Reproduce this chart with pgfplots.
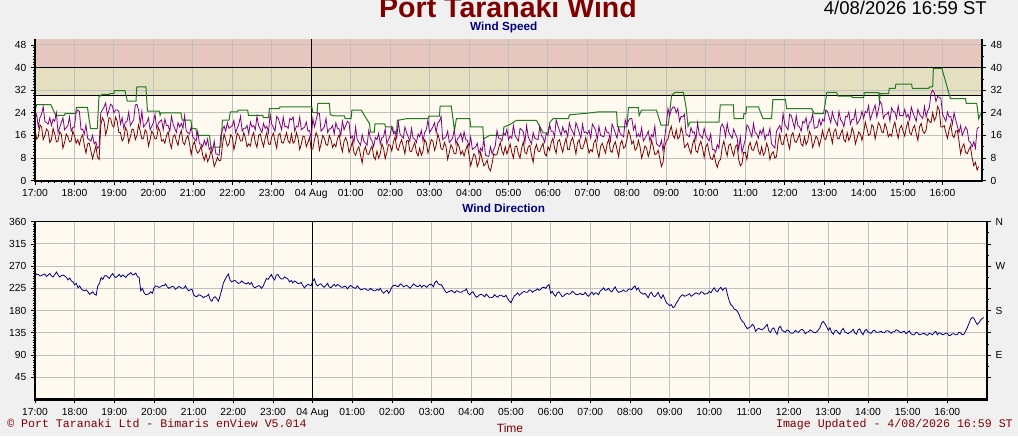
\documentclass[border=0pt]{standalone}
\usepackage{pgfplots}
\pgfplotsset{compat=1.18}
\usepackage{pgfplotstable}
\usepackage{fontspec}
\setmainfont{Liberation Sans}
\newfontfamily\monofont{Liberation Mono}
\definecolor{outerbg}{HTML}{F0F0F0}
\definecolor{plotbg}{HTML}{FFFAF0}
\definecolor{bandA}{HTML}{E4DFC1}
\definecolor{bandB}{HTML}{E5C7C0}
\definecolor{gridc}{HTML}{C0C0C0}
\definecolor{avgc}{HTML}{800000}
\definecolor{gustc}{HTML}{800080}
\definecolor{maxc}{HTML}{1E7B1E}
\definecolor{dirc}{HTML}{000080}
\definecolor{titlec}{HTML}{800000}

% m = minutes after 17:00; avg, gust (knots); dir (degrees)
\pgfplotstableread{
m avg gust dir
0 18 22 250
2.5 14.75 23.5 254
5 15.5 19 253
7.5 19.75 22.25 250
10 19 23.5 251
12.5 14.5 26.25 253
15 16 21 254
17.5 18.25 20.5 249
20 17.5 20 252
22.5 13.5 22.25 255
25 14.5 19.5 250
27.5 18.5 21.75 248
30 16.5 21 253
32.5 13.75 24 258
35 14 17 252
37.5 17.25 18.75 248
40 16.5 20.5 251
42.5 11.5 22.25 252
45 13.5 18 250
47.5 16.5 18.75 247
50 15.5 19.5 242
52.5 13.75 22.5 246
55 14 17.5 240
57.5 17.5 18.75 238
60 16 19 232
62.5 13.25 24 235
65 14.5 25 226
67.5 12.75 24.5 230
70 15 18 224
72.5 16.25 18.25 221
75 12.5 16.5 220
77.5 9.75 19.75 222
80 13 15 218
82.5 13.25 14.5 213
85 10.5 14 215
87.5 7.75 16 218
90 10 13 213
92.5 12.25 13.75 211
95 8.5 11.5 230
97.5 7.5 12 235
100 19.5 24 247
102.5 22.25 25 243
105 21 26 250
107.5 16.25 27.5 251
110 18.5 23 248
112.5 22.25 25 245
115 22 27 251
117.5 19.5 26.5 255
120 19 24 249
122.5 22.5 25 247
125 21 25 250
127.5 17 24.5 253
130 17 20 248
132.5 14 22.25 252
135 15 18.5 250
137.5 18.75 20.75 247
140 17.5 21 252
142.5 13.5 24.25 254
145 15.5 19.5 257
147.5 18.25 20.5 252
150 18 21.5 253
152.5 14.5 26.75 256
155 16 27 249
157.5 19.75 25 247
160 17.5 20 220
162.5 14.75 24.5 225
165 15 19 216
167.5 18 19.75 212
170 17 20.5 213
172.5 12.25 22.25 214
175 14.5 18 218
177.5 17.5 19.25 215
180 16.5 20.5 226
182.5 14.75 23.5 230
185 15 18.5 229
187.5 18.75 20.25 227
190 17.5 21 228
192.5 14 21.5 231
195 14.5 18 230
197.5 13.25 21.75 234
200 16 19.5 228
202.5 17.25 19.5 225
205 13.5 17.5 227
207.5 11.5 22.75 229
210 15.5 20 228
212.5 16.25 18.5 223
215 14 17 226
217.5 12.5 20.5 229
220 16 19 227
222.5 17.75 20.25 225
225 13.5 18.5 225
227.5 12.75 23 230
230 15 17.5 224
232.5 16 17 220
235 13 16.5 222
237.5 9.25 19 223
240 12.5 15.5 212
242.5 13.75 14.75 209
245 11 14 208
247.5 9.75 17.5 212
250 10.5 13 211
252.5 12.25 13 209
255 9 12 206
257.5 7.25 14.25 209
260 9.5 12.5 209
262.5 6.75 14.75 213
265 8 11 202
267.5 10.75 11.75 199
270 8.5 10.5 206
272.5 5 14 208
275 6.5 9.5 204
277.5 8.25 9.25 199
280 7 9 210
282.5 7.25 16 222
285 12.5 18 236
287.5 16.5 19.25 243
290 14.5 17.5 249
292.5 12.25 20.5 254
295 13 18.5 242
297.5 16.25 19 238
300 15.5 19.5 240
302.5 11 21.25 241
305 13.5 17 238
307.5 16.75 18.5 235
310 16 20 236
312.5 14 22.75 240
315 14 17.5 237
317.5 17 18.5 235
320 15 18.5 234
322.5 12 19.5 237
325 13 16.5 233
327.5 12.25 20.75 237
330 15.5 19 229
332.5 17 19.5 226
335 13.5 18 228
337.5 11.75 22.75 230
340 16 19.5 230
342.5 16.5 18.25 225
345 14 17 229
347.5 12 20.25 237
350 15 18.5 245
352.5 17 19.25 243
355 13 17 248
357.5 12.75 23.5 253
360 15.5 20 246
362.5 16.75 18.75 242
365 14 17.5 252
367.5 11.5 22.75 253
370 16 22 247
372.5 16.75 20 244
375 13.5 18 244
377.5 13.25 22.5 248
380 15 19 246
382.5 17 19.25 244
385 14 18.5 238
387.5 13.25 22 241
390 16.5 21.5 236
392.5 13.25 22.5 240
395 14 17.5 238
397.5 17 19.25 235
400 15 19 235
402.5 11 22.5 237
405 13 18 231
407.5 15.75 18.5 226
410 15.5 19 230
412.5 12 20.75 233
415 13.5 17.5 232
417.5 15.25 17.75 230
420 11 15 239
422.5 11.25 22 244
425 14.5 19 234
427.5 17 21.5 230
430 15.5 24 233
432.5 10.75 23.75 234
435 13 17.5 230
437.5 16 18.25 227
440 15 19 231
442.5 12.75 22 235
445 12.5 17 228
447.5 16 18.25 226
450 14.5 18.5 230
452.5 11.75 19.5 233
455 13 16.5 229
457.5 12 20.5 233
460 15 18.5 231
462.5 16.25 18.25 228
465 12.5 16 227
467.5 10.25 21 229
470 14 18 229
472.5 15.25 19.5 224
475 13.5 21 228
477.5 10 20.5 231
480 11.5 15 228
482.5 13.75 15.75 226
485 10 13.5 225
487.5 9 19 230
490 11 14.5 226
492.5 12 13.5 222
495 9 12.5 223
497.5 6.25 16.25 224
500 10.5 14 224
502.5 12 13.25 221
505 9.5 12.5 221
507.5 9.25 17.75 225
510 11 15 222
512.5 12.25 14 220
515 8.5 12 220
517.5 7.5 15.25 223
520 10.5 14.5 221
522.5 8 16.75 225
525 9.5 13 218
527.5 13 15.25 215
530 11.5 15.5 219
532.5 7.75 18.25 221
535 10 13 215
537.5 12.75 14.5 221
540 12.5 16 228
542.5 10.5 19 231
545 13.5 17 231
547.5 15.5 17.5 229
550 11.5 15 229
552.5 10.75 20.75 234
555 13 16.5 232
557.5 14.5 15.75 228
560 12 15 230
562.5 9.5 19 231
565 14 17 228
567.5 14.25 15.5 225
570 10.5 14 230
572.5 10.25 18.5 234
575 12 15 231
577.5 13.5 14.75 229
580 10 13.5 229
582.5 8.75 16.5 232
585 11.5 15.5 227
587.5 9 17.75 231
590 10.5 14 230
592.5 14.5 17 227
595 13.5 18 231
597.5 9.75 21.5 233
600 12 17 233
602.5 14.5 18 228
605 14 19 237
607.5 10.75 20.5 240
610 12.5 17 234
612.5 16.5 20.5 232
615 14.5 21 232
617.5 11.25 22.75 226
620 11 14.5 220
622.5 13.5 15 216
625 12 15.5 218
627.5 7.5 17.5 219
630 10 13.5 221
632.5 12.75 14.25 218
635 11.5 15 216
637.5 9.5 18 220
640 9.5 13 219
642.5 13.25 14.75 217
645 12 15.5 217
647.5 9.25 16.75 220
650 10.5 14 220
652.5 8.75 17.25 224
655 11 14.5 215
657.5 12.5 14.25 212
660 9 12 216
662.5 5.25 15.5 218
665 7.5 11 212
667.5 9.5 11.5 207
670 8.5 12 209
672.5 5 13.25 212
675 6.5 9.5 213
677.5 10 11.5 211
680 7.5 10.5 208
682.5 5.25 14.75 213
685 6 9 210
687.5 7.25 8.75 206
690 4.5 8.5 206
692.5 3.5 12 207
695 6 9.5 212
697.5 9.5 11 209
700 9 12.5 207
702.5 9.25 17.75 211
705 11.5 15 211
707.5 13.5 15 209
710 10.5 14 208
712.5 9.25 17 211
715 12 16 204
717.5 9.5 18.25 199
720 11 14.5 196
722.5 13 15.75 203
725 10 15 210
727.5 8 19.5 212
730 12 16 216
732.5 12.25 15 211
735 9.5 14 214
737.5 8 18.5 217
740 11.5 18 219
742.5 13.75 17.25 217
745 10 13.5 217
747.5 9.5 19.5 222
750 12 15.5 221
752.5 12.5 14.25 217
755 9 13 220
757.5 6.5 17 221
760 11 15 224
762.5 12.75 14.75 221
765 10.5 14.5 223
767.5 10.25 19.25 227
770 12 16 227
772.5 13.25 15.25 225
775 9.5 13.5 230
777.5 8.75 16.75 233
780 12 16 215
782.5 10.75 19.75 219
785 13.5 17.5 212
787.5 15 17.5 209
790 11.5 15.5 216
792.5 9.75 21.5 218
795 14 19.5 213
797.5 14.5 17.75 208
800 12 16 210
802.5 10 19 213
805 13 17 215
807.5 15 17.75 213
810 11 15.5 214
812.5 11 20.5 219
815 14 18.5 217
817.5 15.25 17.25 213
820 12.5 16 212
822.5 9.5 20.5 213
825 13.5 19 215
827.5 14.5 17 212
830 11.5 15 213
832.5 11.25 20 217
835 13 17 211
837.5 15.25 17.25 209
840 12.5 16.5 214
842.5 9.75 17.75 217
845 11 15 212
847.5 10.25 20 216
850 13.5 19 215
852.5 14.5 17.75 212
855 10.5 14.5 220
857.5 8.25 19.25 222
860 12 16 226
862.5 13.25 15.75 221
865 11.5 15.5 222
867.5 9.75 18.75 225
870 13 17 220
872.5 14.75 17 218
875 10.5 14 223
877.5 10 20 228
880 12.5 18.5 221
882.5 13.75 16.75 217
885 11 15 218
887.5 8.5 18.75 219
890 13 16.5 222
892.5 14.25 16 219
895 11.5 15.5 219
897.5 12 21.5 223
900 14.5 19.5 224
902.5 17.75 21.25 222
905 16 22 227
907.5 13 22 230
910 14 18 222
912.5 10.75 19.75 226
915 11.5 15.5 218
917.5 14.25 16.5 215
920 12 15.5 213
922.5 8 18.75 215
925 10 14 211
927.5 12.25 15 206
930 11.5 16 214
932.5 8.5 17.5 217
935 10.5 14 210
937.5 14.25 16.25 208
940 12 15.5 212
942.5 9.25 19.25 217
945 9.5 13 209
947.5 10.75 12.5 205
950 8 12 212
952.5 5 14.25 204
955 6.5 10.5 196
957.5 12.25 15.25 193
960 14 20 190
962.5 14.75 25.5 192
965 17.5 23 186
967.5 19.25 25 188
970 16 26 195
972.5 15 26 200
975 18 24 206
977.5 14.75 25.5 210
980 15.5 21 212
982.5 18.75 22.75 209
985 17 22.5 210
987.5 11.75 23.5 212
990 12.5 16.5 214
992.5 13.25 16 209
995 11 15.5 211
997.5 9.5 18.75 214
1000 13 17 216
1002.5 14.75 17.25 214
1005 10.5 14.5 213
1007.5 10 20.5 218
1010 12.5 16.5 217
1012.5 14 15.75 213
1015 11.5 15 214
1017.5 8.25 18.5 215
1020 12 16 219
1022.5 13 15 216
1025 10 14 222
1027.5 7.75 16.5 226
1030 7.5 11 220
1032.5 9.5 11 218
1035 6.5 10 224
1037.5 4.75 12.75 227
1040 7 11.5 221
1042.5 7.5 18.75 225
1045 12 20 226
1047.5 14 18.75 212
1050 11 15.5 200
1052.5 8.75 20.25 192
1055 12.5 17 189
1057.5 13 16 183
1060 10.5 15 182
1062.5 8.75 18.25 178
1065 12 16.5 172
1067.5 12.75 15.25 163
1070 7.5 11 158
1072.5 5.25 15.5 155
1075 6 10 148
1077.5 10 12.25 143
1080 10 14.5 146
1082.5 7.5 19.75 147
1085 12 19 152
1087.5 13.5 17.25 149
1090 11 15.5 138
1092.5 10.75 20.25 142
1095 12.5 17 144
1097.5 14 16.5 142
1100 10.5 15 141
1102.5 9.25 17.75 144
1105 12 16.5 148
1107.5 9 18.5 152
1110 10 14.5 139
1112.5 13.25 16.25 136
1115 11.5 16 143
1117.5 7.5 18.5 145
1120 9.5 13 137
1122.5 10.25 12.25 132
1125 8 11.5 145
1127.5 8.5 17.5 148
1130 14 18.5 140
1132.5 16.5 19.5 138
1135 13 17.5 136
1137.5 12.75 23.75 141
1140 15.5 20 139
1142.5 16.5 19 135
1145 13.5 18 134
1147.5 11.25 23.5 135
1150 16 23 140
1152.5 17 20.75 137
1155 14 18.5 136
1157.5 13.5 23 140
1160 15 19.5 142
1162.5 16.5 19 140
1165 13 17.5 133
1167.5 12.25 21 136
1170 15.5 20.5 137
1172.5 12.75 22.25 141
1175 14 18 139
1177.5 17.5 20.5 136
1180 16 21 135
1182.5 11.75 23.75 137
1185 13.5 18.5 141
1187.5 15.75 18.75 146
1190 15 19 155
1192.5 12.25 21.75 158
1195 14.5 19.5 153
1197.5 17.75 21.75 147
1200 15 21 140
1202.5 14.5 25 145
1205 17 24.5 136
1207.5 18.5 22.5 132
1210 16 20.5 139
1212.5 13.25 24.25 140
1215 17.5 22 135
1217.5 18.25 20.75 132
1220 15 19.5 140
1222.5 14.75 24.5 144
1225 16.5 21.5 137
1227.5 18 20.75 135
1230 14.5 19 133
1232.5 13.75 22.75 136
1235 17 22.5 138
1237.5 14.25 24.25 142
1240 15.5 20 135
1242.5 18.75 21.75 132
1245 17 21.5 141
1247.5 13 24.75 143
1250 15 20 136
1252.5 17.25 21 131
1255 16.5 22 139
1257.5 14.25 24.5 142
1260 17 22 137
1262.5 20.75 24.5 135
1265 18.5 24 134
1267.5 16 26.5 139
1270 16.5 21.5 140
1272.5 19.75 23.25 136
1275 19 25 136
1277.5 14.75 26.75 137
1280 17.5 22.5 138
1282.5 20.5 25.25 135
1285 19.5 28 135
1287.5 17.25 27 139
1290 17 22 139
1292.5 20.25 23.25 137
1295 18.5 23.5 134
1297.5 15.5 24.25 137
1300 16.5 21 137
1302.5 15.75 25.75 141
1305 19 24.5 140
1307.5 20.75 24.25 137
1310 17.5 22 135
1312.5 15 26.5 137
1315 18.5 23 138
1317.5 19.5 23 133
1320 17.5 23 136
1322.5 15.75 25.25 139
1325 19 22.5 133
1327.5 21 23.5 131
1330 17 21.5 131
1332.5 16.25 26 136
1335 18.5 24 135
1337.5 19.5 22.5 131
1340 16.5 21 132
1342.5 14.25 25.25 133
1345 19 23.5 134
1347.5 20.25 22.75 131
1350 17.5 22 130
1352.5 16.75 26.25 134
1355 18 22.5 133
1357.5 22 24.75 131
1360 21 26 135
1362.5 20.5 31 138
1365 24 32 131
1367.5 21.25 31 135
1370 22.5 28 134
1372.5 26.25 29.75 131
1375 25 29.5 132
1377.5 19 29 134
1380 19 23.5 134
1382.5 19.5 22.25 129
1385 17 21 130
1387.5 15 24.25 133
1390 18 22.5 133
1392.5 20 22.75 131
1395 16 20 131
1397.5 15.25 24 136
1400 17.5 21.5 135
1402.5 17.75 19.25 131
1405 14 17 132
1407.5 9.5 19.5 138
1410 12 16 145
1412.5 13 17.5 153
1415 10 19 162
1417.5 9.5 18 166
1420 11 14 165
1422.5 12 13.5 158
1425 8 12 152
1427.5 5.25 13.75 155
1430 6.5 11.5 160
1432.5 3.75 18.25 164
1435 5 19 166
}\speed

% maximum gust (knots)
\pgfplotstableread{
m v
0 24.9
2.4 26.9
24 26.9
31.5 23.1
44.4 23.1
45.6 23.7
61.8 23.7
63 25.9
79.8 25.9
82.2 21.7
84.6 18.4
94.8 18.4
97.2 29.6
102 30.5
112.8 30.5
114 30.8
120 30.8
120.6 31.8
136.8 31.8
140.4 28.1
153.6 28.1
154.8 33.2
168.6 33.2
171 24.6
189 24.6
190.2 23.1
191.4 24
222 24
223.8 21.4
237 21.4
238.8 18.4
244.8 18.4
246 16
265.2 16
267.6 11.9
282.6 11.9
285 21.4
295.2 21.4
297 24.3
307.8 24.3
309 24.9
323.4 24.9
324.6 23.1
346.2 23.1
347.4 22.3
355.2 22.3
356.4 25.5
371.4 25.5
372.6 26.1
421 26.1
422.4 24.1
429 24.1
430 27.3
447.6 27.3
449 23.3
455.4 22.9
470.4 22.9
471.6 21.9
480.6 21.9
481.8 24.9
496.2 24.9
508.8 20.1
510 17.2
516 17.2
517 20.1
531.6 20.1
533 19.0
544 19.0
545 16.6
549.6 16.6
551 21.3
564.6 21.9
597.6 21.9
599 22.8
615 22.8
616 26.4
633 26.4
637.8 17.8
640.8 21.9
661.2 21.9
662.4 19.0
681 19.0
682 14.8
691.2 16.0
711.6 16.0
713 19.0
721.8 19.8
732 21.3
762.6 21.3
772.8 16.9
780 16.9
783 20.7
787.8 21.9
810.6 21.9
813 23.3
841.2 23.9
856.2 24.3
884.4 24.3
885.6 19.0
900 19.0
902.4 25.8
917.4 25.8
918.6 23.0
922.2 24.9
945 24.9
952 19.6
963 19.6
966 26.0
968 30.2
973 31.2
986 31.2
990 26.0
993 19.2
996 20.7
1040 20.7
1042 26.8
1062 26.8
1063 21.9
1077 21.9
1078 23.7
1081 23.7
1082 26.1
1100 26.1
1107 21.9
1120 21.9
1122 28.7
1141 28.7
1143 25.5
1181 25.5
1185 23.7
1199 23.7
1202 27.9
1204 31.2
1219 31.2
1221 29.9
1242 29.9
1243 29.4
1260 29.4
1261 31.1
1283 31.1
1284 27.3
1285 30.8
1298 30.8
1299 32.6
1308 32.6
1309 34.1
1333 34.1
1334 32.6
1359 32.6
1360 33.2
1365 33.2
1366 39.7
1379 39.7
1392 29.0
1415 29.0
1416 27.3
1432 27.3
1435 21.9
1438 23.7
}\maxgust

\pgfplotsset{
  panel/.style={
    scale only axis, anchor=south west,
    xmin=0, xmax=1440,
    tick align=outside,
    major tick length=3pt, minor tick length=1.5pt,
    every tick/.style={black, line width=0.5pt},
    tick label style={font=\fontsize{7.7}{9}\selectfont},
    /pgf/number format/assume math mode=true,
    axis line style={black, line width=0.75pt},
    clip mode=individual,
  },
  timeaxis/.style={
    xtick={0,60,...,1380},
    xticklabels={17:00,18:00,19:00,20:00,21:00,22:00,23:00,04 Aug,01:00,02:00,03:00,04:00,05:00,06:00,07:00,08:00,09:00,10:00,11:00,12:00,13:00,14:00,15:00,16:00},
    minor x tick num=5,
    tick pos=left,
    axis background/.style={fill=plotbg},
  },
}

\begin{document}
\begin{tikzpicture}
\useasboundingbox (0,0) rectangle (763.5pt,327pt);
\clip (0,0) rectangle (763.5pt,327pt);
\fill[outerbg] (0,0) rectangle (763.5pt,327pt);

% ---------- Wind speed panel ----------
\begin{axis}[panel, timeaxis,
  at={(26.25pt,191.5pt)}, width=710.25pt, height=106.05pt,
  ymin=0, ymax=50, ytick={0,8,...,48}, minor y tick num=7]
  \fill[bandA] (axis cs:0,30) rectangle (axis cs:1440,40);
  \fill[bandB] (axis cs:0,40) rectangle (axis cs:1440,50);
  \pgfplotsinvokeforeach{60,120,...,1380}{\draw[gridc, line width=0.75pt] (axis cs:#1,0) -- (axis cs:#1,50);}
  \pgfplotsinvokeforeach{8,16,24,32,48}{\draw[gridc, line width=0.75pt] (axis cs:0,#1) -- (axis cs:1440,#1);}
  \draw[black, line width=0.75pt] (axis cs:0,30) -- (axis cs:1440,30);
  \draw[black, line width=0.75pt] (axis cs:0,40) -- (axis cs:1440,40);
  \draw[black, line width=0.75pt] (axis cs:420,0) -- (axis cs:420,50);
  \addplot[maxc, line width=0.75pt] table[x=m, y=v] {\maxgust};
  \addplot[gustc, line width=0.6pt] table[x=m, y=gust] {\speed};
  \addplot[avgc, line width=0.6pt] table[x=m, y=avg] {\speed};
  \draw[black, line width=1.6pt] (axis cs:0,50) -- (axis cs:0,0) -- (axis cs:1440,0) -- (axis cs:1440,50);
\end{axis}
\begin{axis}[panel,
  at={(26.25pt,191.5pt)}, width=710.25pt, height=106.05pt,
  ymin=0, ymax=50, ytick={0,8,...,48}, minor y tick num=1,
  hide x axis, axis y line*=right]
\end{axis}

% ---------- Wind direction panel ----------
\begin{axis}[panel, timeaxis,
  at={(26.25pt,27.4pt)}, width=714pt, height=133.35pt,
  ymin=0, ymax=360, ytick={45,90,...,360}, minor y tick num=8]
  \pgfplotsinvokeforeach{60,120,...,1380}{\draw[gridc, line width=0.75pt] (axis cs:#1,0) -- (axis cs:#1,360);}
  \pgfplotsinvokeforeach{45,90,...,315}{\draw[gridc, line width=0.75pt] (axis cs:0,#1) -- (axis cs:1440,#1);}
  \draw[black, line width=0.75pt] (axis cs:420,0) -- (axis cs:420,360);
  \addplot[dirc, line width=0.6pt] table[x=m, y=dir] {\speed};
  \draw[black, line width=1.6pt] (axis cs:0,360) -- (axis cs:0,0) -- (axis cs:1440,0) -- (axis cs:1440,360);
\end{axis}
\begin{axis}[panel,
  at={(26.25pt,27.4pt)}, width=714pt, height=133.35pt,
  ymin=0, ymax=360, ytick={45,90,...,360}, yticklabels={,E,,S,,W,,N},
  minor y tick num=1,
  hide x axis, axis y line*=right]
\end{axis}

% ---------- texts ----------
\node[anchor=base, text=titlec, font=\fontsize{21.4}{24}\selectfont\bfseries, inner sep=0pt] at (381pt,313.5pt) {Port Taranaki Wind};
\node[anchor=base east, font=\fontsize{13.9}{16}\selectfont, inner sep=0pt] at (740.25pt,315.75pt) {4/08/2026 16:59 ST};
\node[anchor=base, text=dirc, font=\fontsize{8.8}{10}\selectfont\bfseries, inner sep=0pt] at (377.8pt,304.1pt) {Wind Speed};
\node[anchor=base, text=dirc, font=\fontsize{8.8}{10}\selectfont\bfseries, inner sep=0pt] at (377.8pt,167.3pt) {Wind Direction};
\node[anchor=base west, text=avgc, font=\monofont\fontsize{8.7}{10}\selectfont, inner sep=0pt] at (5.25pt,6.75pt) {© Port Taranaki Ltd - Bimaris enView V5.014};
\node[anchor=base, text=avgc, font=\fontsize{9}{10}\selectfont, inner sep=0pt] at (382.5pt,3pt) {Time};
\node[anchor=base east, text=avgc, font=\monofont\fontsize{8.7}{10}\selectfont, inner sep=0pt] at (759.75pt,6.75pt) {Image Updated - 4/08/2026 16:59 ST};
\end{tikzpicture}
\end{document}
